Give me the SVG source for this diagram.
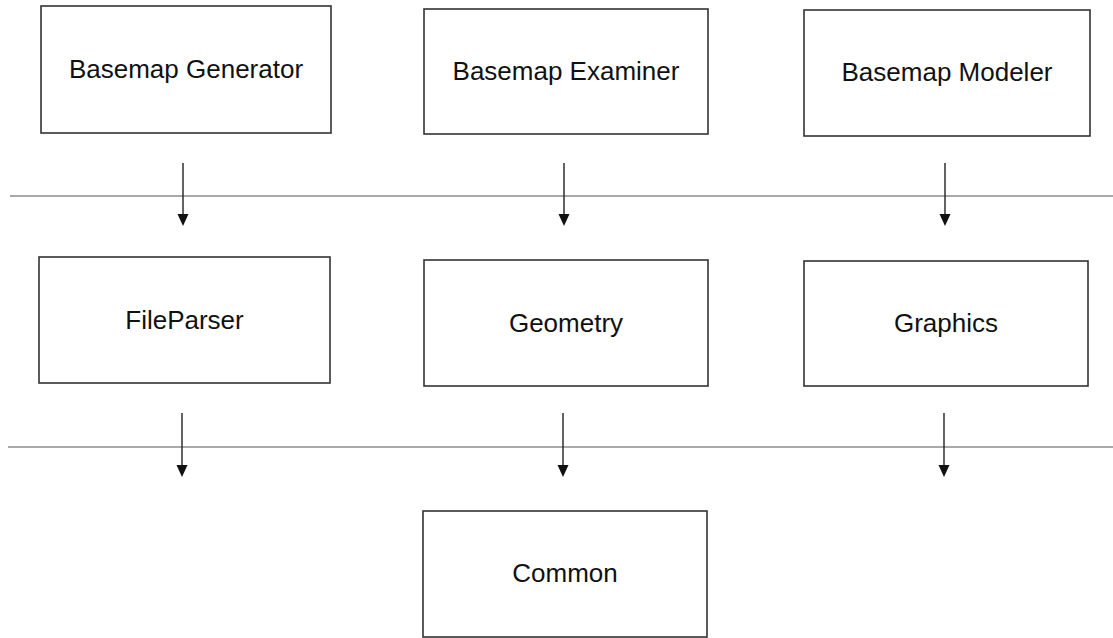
<svg xmlns="http://www.w3.org/2000/svg" width="1113" height="638" viewBox="0 0 1113 638">
  <style>
    .box { fill: #ffffff; stroke: #333333; stroke-width: 1.6; }
    .label { font-family: "Liberation Sans", Arial, sans-serif; font-size: 26px; fill: #111111; text-anchor: middle; }
    .layer { stroke: #555555; stroke-width: 1.2; fill: none; }
    .shaft { stroke: #222222; stroke-width: 1.4; fill: none; }
    .tip { fill: #111111; }
  </style>
  <rect width="1113" height="638" fill="#ffffff"/>

  <!-- layer separators and dependency arrows -->
  <g id="connectors">
    <line class="layer" x1="10" y1="196" x2="1113" y2="196"/>
    <line class="layer" x1="8" y1="447" x2="1113" y2="447"/>

    <line class="shaft" x1="183" y1="163" x2="183" y2="216"/>
    <path class="tip" d="M177.5,214 L188.5,214 L183,226 Z"/>
    <line class="shaft" x1="564" y1="163" x2="564" y2="216"/>
    <path class="tip" d="M558.5,214 L569.5,214 L564,226 Z"/>
    <line class="shaft" x1="945" y1="163" x2="945" y2="216"/>
    <path class="tip" d="M939.5,214 L950.5,214 L945,226 Z"/>

    <line class="shaft" x1="182" y1="413" x2="182" y2="467"/>
    <path class="tip" d="M176.5,465 L187.5,465 L182,477 Z"/>
    <line class="shaft" x1="563" y1="413" x2="563" y2="467"/>
    <path class="tip" d="M557.5,465 L568.5,465 L563,477 Z"/>
    <line class="shaft" x1="944" y1="413" x2="944" y2="467"/>
    <path class="tip" d="M938.5,465 L949.5,465 L944,477 Z"/>
  </g>

  <g id="basemap-generator">
    <rect class="box" x="41" y="6" width="290" height="127"/>
    <text class="label" x="186" y="78">Basemap Generator</text>
  </g>
  <g id="basemap-examiner">
    <rect class="box" x="424" y="9" width="284" height="125"/>
    <text class="label" x="566" y="80">Basemap Examiner</text>
  </g>
  <g id="basemap-modeler">
    <rect class="box" x="804" y="10" width="286" height="126"/>
    <text class="label" x="947" y="81">Basemap Modeler</text>
  </g>

  <g id="fileparser">
    <rect class="box" x="39" y="257" width="291" height="126"/>
    <text class="label" x="184.5" y="329">FileParser</text>
  </g>
  <g id="geometry">
    <rect class="box" x="424" y="260" width="284" height="126"/>
    <text class="label" x="566" y="332">Geometry</text>
  </g>
  <g id="graphics">
    <rect class="box" x="804" y="261" width="284" height="125"/>
    <text class="label" x="946" y="332">Graphics</text>
  </g>

  <g id="common">
    <rect class="box" x="423" y="511" width="284" height="126"/>
    <text class="label" x="565" y="582">Common</text>
  </g>
</svg>
